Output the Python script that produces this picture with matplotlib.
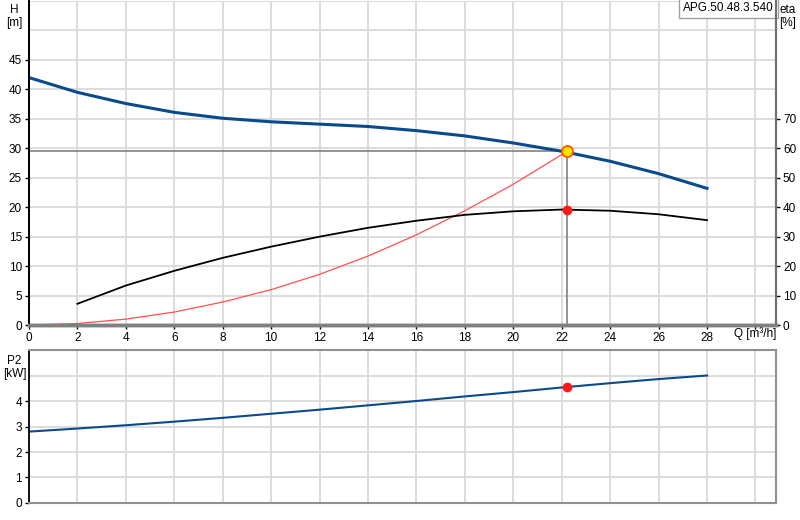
import matplotlib
matplotlib.use("Agg")
import matplotlib.pyplot as plt

plt.rcParams['font.family'] = ['Liberation Sans', 'DejaVu Sans']
plt.rcParams['font.size'] = 8.5

# pump curve H(Q)
q_h = [0, 2, 4, 6, 8, 10, 12, 14, 16, 18, 20, 22, 24, 26, 28]
h = [42.0, 39.5, 37.6, 36.1, 35.1, 34.5, 34.1, 33.7, 33.0, 32.1, 30.9, 29.5, 27.8, 25.7, 23.2]

# efficiency eta(Q) in %
q_eta = [2, 4, 6, 8, 10, 12, 14, 16, 18, 20, 22, 24, 26, 28]
eta = [7.2, 13.4, 18.4, 22.8, 26.6, 30.0, 33.0, 35.4, 37.4, 38.6, 39.2, 38.8, 37.6, 35.6]

# system curve
q_sys = [0, 2, 4, 6, 8, 10, 12, 14, 16, 18, 20, 22.23]
h_sys = [0, 0.25, 1.0, 2.2, 3.9, 6.0, 8.6, 11.7, 15.3, 19.4, 23.9, 29.5]

# power P2(Q)
q_p = [0, 2, 4, 6, 8, 10, 12, 14, 16, 18, 20, 22, 24, 26, 28]
p2 = [2.8, 2.92, 3.05, 3.19, 3.34, 3.5, 3.66, 3.83, 4.0, 4.18, 4.35, 4.53, 4.7, 4.86, 5.0]

# duty point
q_op = 22.23
h_op = 29.5
eta_op = 39.2
p_op = 4.55

pump_name = "APG.50.48.3.540"

fig = plt.figure(figsize=(8, 5.2), dpi=100)
ax = fig.add_axes([0.03625, 0.375, 0.93375, 0.623])
ax2 = ax.twinx()
axp = fig.add_axes([0.03625, 0.0327, 0.93375, 0.2942])

grid_c = '#d9d9d9'
xmax = 30.85

for a in (ax, axp):
    a.set_xlim(0, xmax)
    a.set_xticks(range(0, 31, 2))
    a.grid(True, axis='x', color=grid_c, linewidth=1.3)
    a.set_axisbelow(True)
    a.tick_params(length=3, width=1, colors='black', pad=2)

# horizontal grid lines (more lines than labelled ticks)
for v in range(5, 56, 5):
    ax.axhline(v, color=grid_c, linewidth=1.3, zorder=0)
for v in range(1, 6):
    axp.axhline(v, color=grid_c, linewidth=1.3, zorder=0)

ax.set_ylim(0, 55)
ax.set_yticks(range(0, 46, 5))
ax.set_xticklabels([str(v) if v < 30 else '' for v in range(0, 31, 2)])
ax2.set_ylim(0, 110)
ax2.set_yticks(range(0, 71, 10))
ax2.tick_params(length=3, width=1, pad=2)

axp.set_ylim(0, 6)
axp.set_yticks(range(0, 5))
axp.set_xticklabels([])
axp.tick_params(axis='x', length=0)

# spines
for a in (ax, ax2):
    a.spines['top'].set_visible(False)
    a.spines['left'].set_color('black')
    a.spines['left'].set_linewidth(1.3)
    a.spines['bottom'].set_color('#808080')
    a.spines['bottom'].set_linewidth(2.5)
    a.spines['right'].set_color('#707070')
    a.spines['right'].set_linewidth(1.5)
axp.spines['left'].set_color('black')
axp.spines['left'].set_linewidth(1.3)
for s in ('top', 'right', 'bottom'):
    axp.spines[s].set_color('#909090')
    axp.spines[s].set_linewidth(1.5)

# curves
ax.plot([0, q_op], [h_op, h_op], color='#808080', linewidth=1.2, zorder=2)
ax.plot([q_op, q_op], [0, h_op], color='#808080', linewidth=1.2, zorder=2)
ax.plot(q_sys, h_sys, color='#ff5050', linewidth=0.9, zorder=3)
ax.plot(q_h, h, color='#0a4a8a', linewidth=2.2, zorder=4)
ax2.plot(q_eta, eta, color='black', linewidth=1.3, zorder=4)
ax2.plot([q_op], [eta_op], 'o', color='#ff1a1a', markersize=6, zorder=5)
ax.plot([q_op], [h_op], 'o', markerfacecolor='#ffe000', markeredgecolor='#ff4d00',
        markersize=8, markeredgewidth=1.2, zorder=6)
axp.plot(q_p, p2, color='#0a4a8a', linewidth=1.5)
axp.plot([q_op], [p_op], 'o', color='#ff1a1a', markersize=6, zorder=5)

# labels
fig.text(0.018, 0.993, "H\n[m]", ha='center', va='top', fontsize=8.5, linespacing=1.15)
fig.text(0.985, 0.993, "eta\n[%]", ha='center', va='top', fontsize=8.5, linespacing=1.15)
fig.text(0.018, 0.318, "P2\n[kW]", ha='center', va='top', fontsize=8.5, linespacing=1.15)
fig.text(0.944, 1 - 334 / 520, "Q [m³/h]", ha='center', va='center', fontsize=8.5)
ax.text(0.997, 0.997, pump_name, transform=ax.transAxes, ha='right', va='top', fontsize=8.5,
        bbox=dict(boxstyle='square,pad=0.35', facecolor='white', edgecolor='#a0a0a0', linewidth=1),
        zorder=10)

fig.savefig("out.png", dpi=100)
